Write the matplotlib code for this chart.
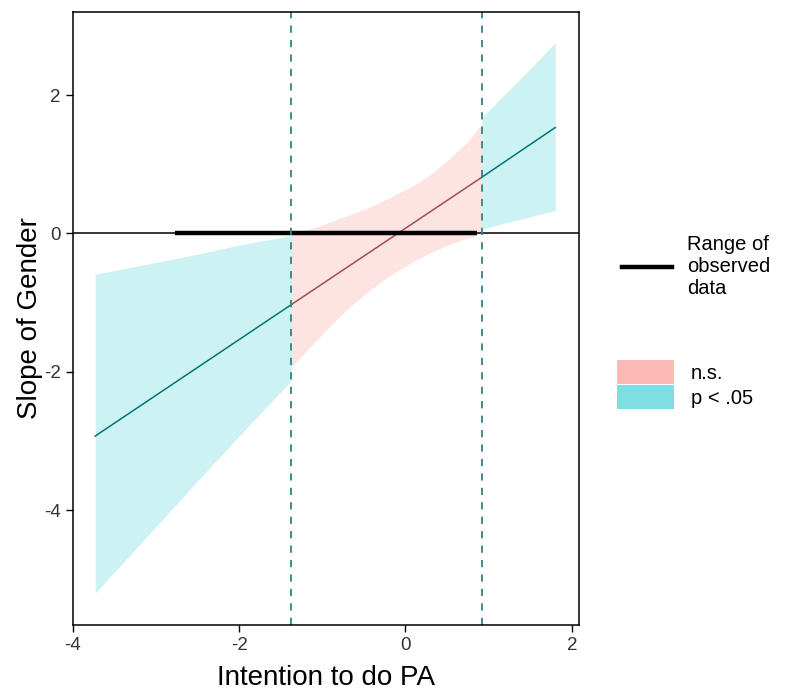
import matplotlib.pyplot as plt
from matplotlib.lines import Line2D
from matplotlib.patches import Patch

plt.rcParams['font.family'] = ['Liberation Sans', 'DejaVu Sans']
plt.rcParams['axes.unicode_minus'] = False

# slope of gender across intention to do PA
line_x = [-3.73, -1.373, 0.916, 1.80]
line_y = [-2.93, -1.03, 0.81, 1.53]

# significant region, left of the lower Johnson-Neyman point
sig_left_x = [-3.73, -3.0, -2.5, -2.0, -1.373]
sig_left_lo = [-5.20, -4.24, -3.58, -2.93, -2.13]
sig_left_hi = [-0.59, -0.42, -0.30, -0.17, -0.03]

# non-significant region
ns_x = [-1.373, -1.2, -1.05, -0.85, -0.65, -0.45, -0.25, -0.05, 0.15, 0.35, 0.55, 0.75, 0.916]
ns_lo = [-1.93, -1.71, -1.52, -1.27, -1.04, -0.84, -0.66, -0.51, -0.37, -0.25, -0.15, -0.07, 0.0]
ns_hi = [0.0, 0.05, 0.10, 0.19, 0.28, 0.37, 0.48, 0.60, 0.73, 0.90, 1.10, 1.33, 1.58]

# significant region, right of the upper Johnson-Neyman point
sig_right_x = [0.916, 1.2, 1.5, 1.80]
sig_right_lo = [0.06, 0.15, 0.24, 0.33]
sig_right_hi = [1.67, 2.02, 2.38, 2.76]

jn_points = [-1.373, 0.916]
observed_range = [-2.77, 0.865]

sig_fill = '#00BFC4'
ns_fill = '#F8766D'

fig = plt.figure(figsize=(7.85, 6.98), dpi=100)
ax = fig.add_axes([0.0926, 0.1046, 0.6454, 0.8782])

ax.fill_between(sig_left_x, sig_left_lo, sig_left_hi, color=sig_fill, alpha=0.2, lw=0)
ax.fill_between(ns_x, ns_lo, ns_hi, color=ns_fill, alpha=0.2, lw=0)
ax.fill_between(sig_right_x, sig_right_lo, sig_right_hi, color=sig_fill, alpha=0.2, lw=0)

ax.plot(line_x[:2], line_y[:2], color='#00757A', lw=1.1)
ax.plot(line_x[1:3], line_y[1:3], color='#A64F4C', lw=1.1)
ax.plot(line_x[2:], line_y[2:], color='#00757A', lw=1.1)

ax.axhline(0, color='black', lw=1.1)
ax.plot(observed_range, [0, 0], color='black', lw=3.2, solid_capstyle='butt')

for xv in jn_points:
    ax.axvline(xv, color='#2E8484', lw=1.3, ls=(0, (4, 4)))

ax.set_xlim(-4.0, 2.09)
ax.set_ylim(-5.66, 3.2)
ax.set_xticks([-4, -2, 0, 2])
ax.set_yticks([-4, -2, 0, 2])
ax.tick_params(labelsize=13.5, labelcolor='#333333', length=5, width=1, color='black')
for s in ax.spines.values():
    s.set_linewidth(1.1)

ax.set_xlabel('Intention to do PA', fontsize=20, labelpad=8)
ax.set_ylabel('Slope of Gender', fontsize=20, labelpad=1)

leg1 = fig.legend(handles=[Line2D([0], [0], color='black', lw=3.2)],
                  labels=['Range of\nobserved\ndata'],
                  loc='center left', bbox_to_anchor=(0.782, 0.618),
                  frameon=False, fontsize=14.5, handlelength=2.5,
                  handletextpad=0.75, borderaxespad=0)
leg2 = fig.legend(handles=[Patch(facecolor=ns_fill, alpha=0.5, lw=0),
                           Patch(facecolor=sig_fill, alpha=0.5, lw=0)],
                  labels=['n.s.', 'p < .05'],
                  loc='center left', bbox_to_anchor=(0.776, 0.449),
                  frameon=False, fontsize=14.5, handlelength=2.8,
                  handleheight=1.45, handletextpad=0.85, labelspacing=0.05,
                  borderaxespad=0)

fig.savefig('out.png', dpi=100)
